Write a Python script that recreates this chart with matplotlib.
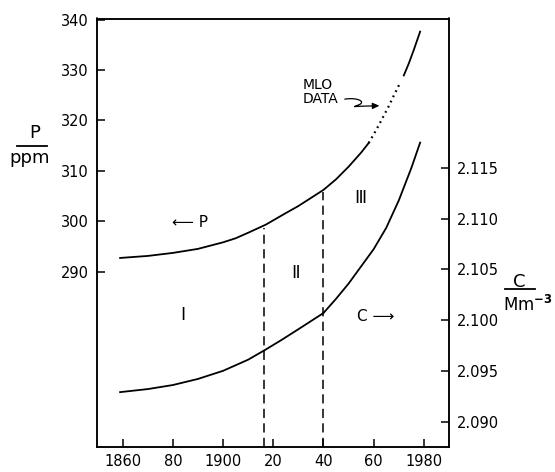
import matplotlib
matplotlib.use("Agg")
import matplotlib.pyplot as plt
import numpy as np
from matplotlib.lines import Line2D
from matplotlib.patches import FancyArrowPatch
from matplotlib.path import Path

# CO2 partial pressure P (ppm), left axis
p_years = [1859, 1870, 1880, 1890, 1900, 1905, 1910, 1917, 1925, 1930, 1935, 1940,
           1945, 1950, 1955, 1958]
p_vals = [292.7, 293.1, 293.7, 294.5, 295.8, 296.6, 297.7, 299.3, 301.6, 303.0, 304.6, 306.2,
          308.3, 310.8, 313.6, 315.5]

# Mauna Loa observatory segment (dotted)
mlo_years = [1958, 1960, 1962, 1964, 1966, 1968, 1970.5]
mlo_vals = [315.5, 317.2, 319.0, 320.9, 322.8, 324.9, 327.4]

# continuation after MLO segment
p2_years = [1972, 1974, 1976, 1978.5]
p2_vals = [328.9, 331.3, 334.0, 337.6]

# total carbonate C (Mm^-3), right axis
c_years = [1859, 1870, 1880, 1890, 1900, 1910, 1917, 1923, 1930, 1935, 1940,
           1945, 1950, 1955, 1960, 1965, 1970, 1975, 1978.5]
c_vals = [2.0929, 2.0932, 2.0936, 2.0942, 2.0950, 2.0961, 2.0971, 2.0980, 2.0991, 2.0999, 2.1007,
          2.1021, 2.1036, 2.1053, 2.1070, 2.1091, 2.1118, 2.1150, 2.1175]

# era boundaries
eras = [1916.5, 1940]

x_ticks = [1860, 1880, 1900, 1920, 1940, 1960, 1980]
x_labels = ["1860", "80", "1900", "20", "40", "60", "1980"]
p_ticks = [290, 300, 310, 320, 330, 340]
c_ticks = [2.090, 2.095, 2.100, 2.105, 2.110, 2.115]

plt.rcParams["font.family"] = ["DejaVu Sans"]

fig = plt.figure(figsize=(5.55, 4.72), dpi=100)
ax = fig.add_axes([97 / 555, 1 - 447 / 472, (448.5 - 97) / 555, (447 - 18.5) / 472])
ax2 = ax.twinx()

ax.set_xlim(1849.8, 1989.8)
ax.set_ylim(255.2, 340.2)
ax2.set_ylim(2.08749, 2.12974)

lw = 1.3
ax.plot(p_years, p_vals, color="black", lw=lw, solid_joinstyle="round")
ax.plot(mlo_years, mlo_vals, color="black", lw=1.6, linestyle=(0, (0.8, 1.8)))
ax.plot(p2_years, p2_vals, color="black", lw=lw, solid_joinstyle="round")
ax2.plot(c_years, c_vals, color="black", lw=lw, solid_joinstyle="round")

# dashed era lines from the P curve down to the bottom
for yr in eras:
    top = float(np.interp(yr, p_years, p_vals)) - 0.5
    ax.vlines(yr, 255.2, top, colors="black", lw=1.1, linestyles=(0, (6, 3.5)))

for a in (ax, ax2):
    for s in a.spines.values():
        s.set_linewidth(1.1)

ax.set_xticks(x_ticks)
ax.set_xticklabels(x_labels)
ax.set_yticks(p_ticks)
ax2.set_yticks(c_ticks)
ax2.set_yticklabels(["%.3f" % v for v in c_ticks])
ax.tick_params(axis="both", direction="in", length=6, width=1.1, labelsize=10.5, pad=6)
ax.tick_params(axis="x", pad=5)
ax2.tick_params(axis="y", direction="in", length=6, width=1.1, labelsize=10.5, pad=6)

# in-plot labels
ax.text(1879.6, 299.7, "\u27f5 P", fontsize=11, ha="left", va="center")
ax.text(1953.3, 281.0, "C \u27f6", fontsize=11, ha="left", va="center")
ax.text(1883.9, 281.4, "\u2160", fontsize=12.5, ha="center", va="center")
ax.text(1929.0, 289.7, "\u2161", fontsize=12.5, ha="center", va="center")
ax.text(1954.5, 304.6, "\u2162", fontsize=12.5, ha="center", va="center")
ax.text(1931.5, 325.6, "MLO\nDATA", fontsize=10, ha="left", va="center", linespacing=1.0)

# squiggly arrow from the MLO label to the dotted segment
verts = [(1948.5, 324.2),
         (1953.5, 324.6), (1957.0, 323.7), (1954.2, 323.1),
         (1952.0, 322.6), (1950.5, 322.7), (1955.0, 322.8),
         (1962.3, 322.9)]
codes = [Path.MOVETO, Path.CURVE4, Path.CURVE4, Path.CURVE4,
         Path.CURVE4, Path.CURVE4, Path.CURVE4, Path.LINETO]
arr = FancyArrowPatch(path=Path(verts, codes), arrowstyle="-|>,head_length=4,head_width=1.8",
                      color="black", lw=0.9, transform=ax.transData)
ax.add_patch(arr)

# axis titles drawn as fractions
fig.text(35 / 555, 1 - 133 / 472, "P", fontsize=13, ha="center", va="center")
fig.add_artist(Line2D([17 / 555, 47 / 555], [1 - 146 / 472] * 2, color="black", lw=1.3))
fig.text(30 / 555, 1 - 158 / 472, "ppm", fontsize=13, ha="center", va="center")

fig.text(519 / 555, 1 - 282 / 472, "C", fontsize=13, ha="center", va="center")
fig.add_artist(Line2D([505 / 555, 535 / 555], [1 - 289 / 472] * 2, color="black", lw=1.3))
fig.text(503 / 555, 1 - 305 / 472, "Mm$^{\\mathbf{-3}}$", fontsize=12, ha="left", va="center")

fig.savefig("out.png", dpi=100)
